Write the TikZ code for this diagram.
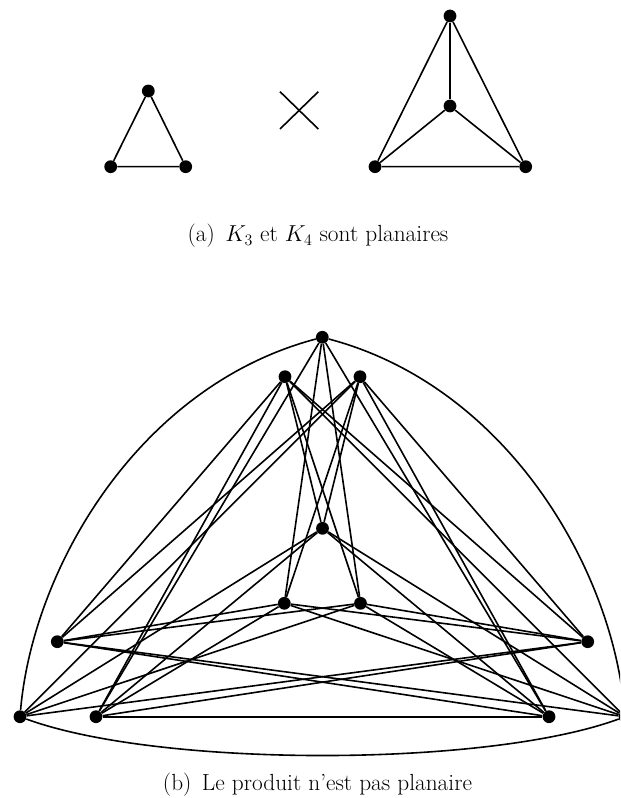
\documentclass[tikz,border=0pt]{standalone}
\begin{document}
\begin{tikzpicture}[x=0.75pt,y=-0.75pt,
  vtx/.style={circle,fill=black,inner sep=0pt,minimum size=9.6pt},
  edge/.style={line width=1.2pt},
  captext/.style={anchor=base,inner sep=0pt,font=\fontsize{17.5}{20}\selectfont}]
\useasboundingbox (0,0) rectangle (620,798);
\clip (0,0) rectangle (620,798);
% (a) K3 x K4
\node[vtx] (a0) at (148.3,91) {};
\node[vtx] (a1) at (110.7,166.7) {};
\node[vtx] (a2) at (185.7,166.7) {};
\draw[edge] (a0) -- (a1) -- (a2) -- (a0);
\draw[edge] (280,91.7) -- (318.3,129);
\draw[edge] (280,129) -- (318.3,91.7);
\node[vtx] (b0) at (450,16) {};
\node[vtx] (b3) at (450,106) {};
\node[vtx] (b1) at (375,166.7) {};
\node[vtx] (b2) at (525.7,166.7) {};
\draw[edge] (b0) -- (b1) -- (b2) -- (b0);
\draw[edge] (b0) -- (b3);
\draw[edge] (b1) -- (b3);
\draw[edge] (b2) -- (b3);
\node[captext] (capa) at (318,241.7) {(a)\hspace{0.45em}$K_3$ et $K_4$ sont planaires};
% (b) product
\node[vtx] (t0) at (322.3,337.3) {};
\node[vtx] (t1) at (285,376.7) {};
\node[vtx] (t2) at (360,376.7) {};
\node[vtx] (c0) at (322.5,528.3) {};
\node[vtx] (c1) at (284.3,603.3) {};
\node[vtx] (c2) at (360.5,603.3) {};
\node[vtx] (l0) at (57.3,641.7) {};
\node[vtx] (l1) at (20,716.7) {};
\node[vtx] (l2) at (96,716.7) {};
\node[vtx] (r0) at (587.7,641.7) {};
\node[vtx] (r1) at (549,716.7) {};
\node[vtx] (r2) at (625,716.7) {};
\foreach \u/\v in {t0/c1,t0/c2,t1/c0,t1/c2,t2/c0,t2/c1,
                   t0/l2,t1/l0,t1/l2,t2/l0,t2/l1,
                   t0/r1,t1/r0,t1/r2,t2/r0,t2/r1,
                   c0/l1,c0/l2,c1/l0,c1/l2,c2/l0,c2/l1,
                   c0/r1,c0/r2,c1/r0,c1/r2,c2/r0,c2/r1,
                   l0/r1,l0/r2,l1/r0,l2/r0,l2/r1}
  \draw[edge] (\u) -- (\v);
\draw[edge] (t0) .. controls (138.5,386) and (33,568) .. (l1);
\draw[edge] (t0) .. controls (506.5,386) and (612,568) .. (r2);
\draw[edge] (l1) .. controls (159,767.7) and (486,767.7) .. (r2);
\node[captext] (capb) at (317.5,790.7) {(b)\hspace{0.45em}Le produit n'est pas planaire};
\end{tikzpicture}
\end{document}
